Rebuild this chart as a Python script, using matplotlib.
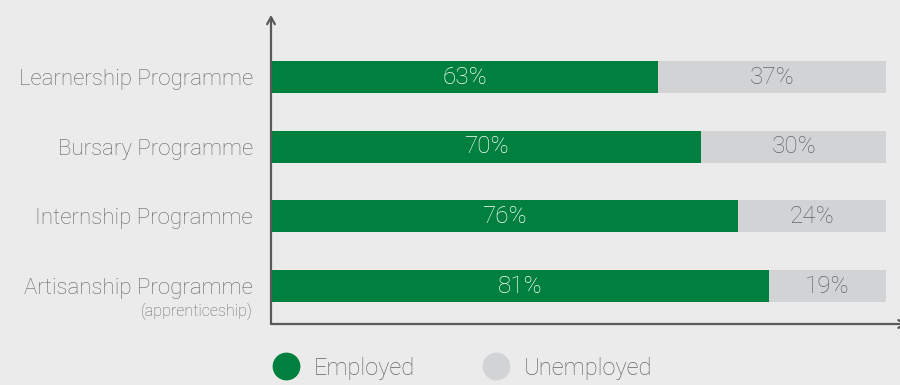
import matplotlib
matplotlib.use("Agg")
import matplotlib.pyplot as plt
from matplotlib.lines import Line2D
from matplotlib import font_manager

# Data
programmes = ["Learnership Programme", "Bursary Programme",
              "Internship Programme", "Artisanship Programme"]
subtitles = ["", "", "", "(apprenticeship)"]
employed = [63, 70, 76, 81]
unemployed = [37, 30, 24, 19]
series_names = ["Employed", "Unemployed"]

GREEN = "#00803e"
GREY_BAR = "#d1d3d4"
BG = "#ebebeb"
TEXT = "#646569"
AXIS = "#58595b"

names = {f.name for f in font_manager.fontManager.ttflist}
family = "Liberation Sans Narrow" if "Liberation Sans Narrow" in names else "Roboto"
plt.rcParams["font.family"] = [family, "DejaVu Sans"]

fig = plt.figure(figsize=(9, 3.85), dpi=100, facecolor=BG)
ax = fig.add_axes([271 / 900, 1 - 324 / 385, 629 / 900, 309 / 385])
ax.set_facecolor(BG)

ypos = list(range(len(programmes)))
h = 0.46
ax.barh(ypos, employed, height=h, color=GREEN, linewidth=0)
ax.barh(ypos, unemployed, left=employed, height=h, color=GREY_BAR, linewidth=0)

for y, e, u in zip(ypos, employed, unemployed):
    ax.text(e / 2, y, f"{e}%", ha="center", va="center", color="white",
            fontsize=17.5, fontweight="light")
    ax.text(e + u / 2, y, f"{u}%", ha="center", va="center", color=TEXT,
            fontsize=17.5, fontweight="light")

ax.set_xlim(0, 102.3)
ax.set_ylim(3.545, -0.89)
ax.set_xticks([])
ax.set_yticks(ypos)
ax.set_yticklabels(programmes, fontsize=16, color=TEXT, fontweight="light")
ax.tick_params(axis="y", length=0, pad=13)
for y, s in zip(ypos, subtitles):
    if s:
        ax.annotate(s, xy=(0, y), xycoords=("axes fraction", "data"),
                    xytext=(-13, -18), textcoords="offset points",
                    ha="right", va="center", fontsize=11.5, color=TEXT,
                    fontweight="light")

for sp in ax.spines.values():
    sp.set_visible(False)

# axis lines with open arrowheads
arrow = dict(arrowstyle="->,head_length=0.5,head_width=0.28", color=AXIS,
             lw=1.6, shrinkA=0, shrinkB=0)
ax.annotate("", xy=(0, 1), xytext=(0, 0), xycoords="axes fraction",
            arrowprops=arrow, annotation_clip=False)
ax.annotate("", xy=(1.012, 0), xytext=(0, 0), xycoords="axes fraction",
            arrowprops=arrow, annotation_clip=False)

handles = [Line2D([], [], marker="o", linestyle="none", markersize=19,
                  markerfacecolor=c, markeredgecolor=c)
           for c in (GREEN, GREY_BAR)]
leg = fig.legend(handles, series_names, loc="center left",
                 bbox_to_anchor=(251 / 900, 1 - 368 / 385), ncol=2,
                 frameon=False, handletextpad=0.55,
                 columnspacing=2.85, labelcolor=TEXT, handlelength=1.2,
                 prop={"weight": "light", "size": 17})

fig.savefig("out.png", dpi=100, facecolor=BG)
